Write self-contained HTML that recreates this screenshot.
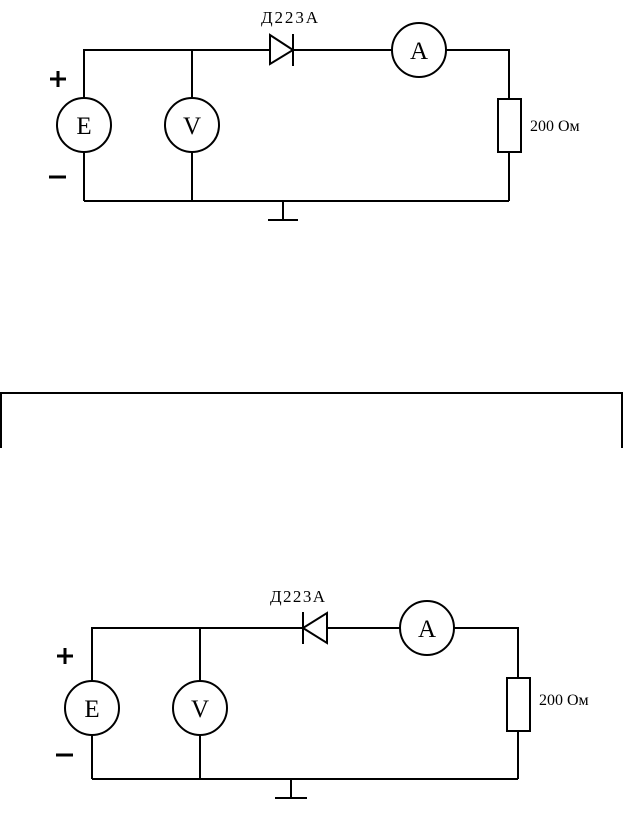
<!DOCTYPE html>
<html><head><meta charset="utf-8"><style>
html,body{margin:0;padding:0;background:#fff;}
svg{display:block;}
text{font-family:"Liberation Serif",serif;fill:#000;}
</style></head><body>
<svg width="624" height="814" viewBox="0 0 624 814" xmlns="http://www.w3.org/2000/svg">
<g stroke="#000" stroke-width="2" fill="none">
<polyline points="84,98 84,50 270,50"/>
<line x1="84" y1="152" x2="84" y2="201"/>
<line x1="84" y1="201" x2="509" y2="201"/>
<line x1="192" y1="50" x2="192" y2="98"/>
<line x1="192" y1="152" x2="192" y2="201"/>
<line x1="293" y1="50" x2="392" y2="50"/>
<polyline points="446,50 509,50 509,99"/>
<line x1="509" y1="152" x2="509" y2="201"/>
<circle cx="84" cy="125" r="27"/>
<circle cx="192" cy="125" r="27"/>
<circle cx="419" cy="50" r="27"/>
<rect x="498" y="99" width="23" height="53"/>
<polygon points="270,35 270,64 293,50"/>
<line x1="293" y1="34" x2="293" y2="66"/>
<line x1="283" y1="201" x2="283" y2="220"/>
<line x1="268" y1="220" x2="298" y2="220"/>
<polyline points="1,448 1,393 622,393 622,448"/>
<polyline points="92,681 92,628 302,628"/>
<line x1="92" y1="735" x2="92" y2="779"/>
<line x1="92" y1="779" x2="518" y2="779"/>
<line x1="200" y1="628" x2="200" y2="681"/>
<line x1="200" y1="735" x2="200" y2="779"/>
<line x1="327" y1="628" x2="400" y2="628"/>
<polyline points="454,628 518,628 518,678"/>
<line x1="518" y1="731" x2="518" y2="779"/>
<circle cx="92" cy="708" r="27"/>
<circle cx="200" cy="708" r="27"/>
<circle cx="427" cy="628" r="27"/>
<rect x="507" y="678" width="23" height="53"/>
<polygon points="327,613 327,643 303,628"/>
<line x1="303" y1="612" x2="303" y2="644"/>
<line x1="291" y1="779" x2="291" y2="798"/>
<line x1="275" y1="798" x2="307" y2="798"/>
</g>
<g stroke="#000" stroke-width="3" fill="none">
<line x1="50" y1="79" x2="66" y2="79"/>
<line x1="58" y1="71" x2="58" y2="87"/>
<line x1="49" y1="177" x2="66" y2="177"/>
<line x1="57" y1="656" x2="73" y2="656"/>
<line x1="65" y1="648" x2="65" y2="664"/>
<line x1="56" y1="755" x2="73" y2="755"/>
</g>
<g font-size="25" text-anchor="middle">
<text x="84" y="134">E</text>
<text x="192" y="134">V</text>
<text x="419" y="59">A</text>
<text x="92" y="717">E</text>
<text x="200" y="717">V</text>
<text x="427" y="637">A</text>
</g>
<g font-size="17">
<text x="261" y="23" textLength="57">Д223А</text>
<text x="270" y="602" textLength="55">Д223А</text>
</g>
<g font-size="16">
<text x="530" y="131">200 Ом</text>
<text x="539" y="705">200 Ом</text>
</g>
</svg>
</body></html>
